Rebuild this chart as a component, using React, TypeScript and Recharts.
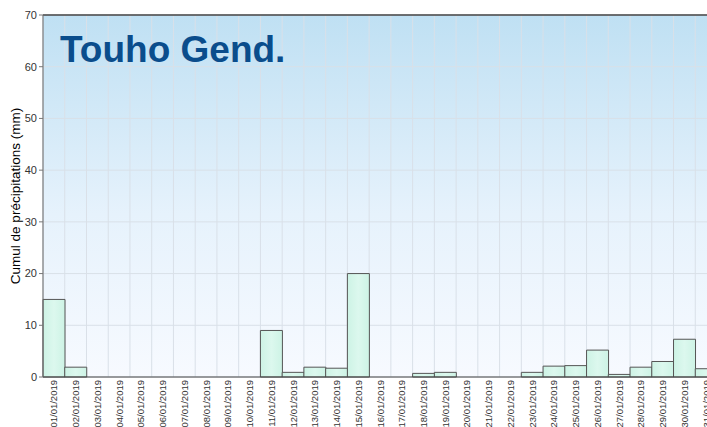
import React from "react";
import {
  Bar,
  BarChart,
  CartesianGrid,
  ReferenceLine,
  XAxis,
  YAxis,
} from "recharts";

const jours = [
  "01/01/2019", "02/01/2019", "03/01/2019", "04/01/2019", "05/01/2019",
  "06/01/2019", "07/01/2019", "08/01/2019", "09/01/2019", "10/01/2019",
  "11/01/2019", "12/01/2019", "13/01/2019", "14/01/2019", "15/01/2019",
  "16/01/2019", "17/01/2019", "18/01/2019", "19/01/2019", "20/01/2019",
  "21/01/2019", "22/01/2019", "23/01/2019", "24/01/2019", "25/01/2019",
  "26/01/2019", "27/01/2019", "28/01/2019", "29/01/2019", "30/01/2019",
  "31/01/2019",
];

const cumul = [
  15, 1.9, 0, 0, 0, 0, 0, 0, 0, 0,
  9, 0.9, 1.9, 1.7, 20, 0, 0, 0.7, 0.9, 0,
  0, 0, 0.9, 2.1, 2.2, 5.2, 0.5, 1.9, 3, 7.3,
  1.6,
];

const yTicks = [0, 10, 20, 30, 40, 50, 60, 70];

const data = jours.map((j, i) => ({ jour: j, pluie: cumul[i] }));

const police = "Liberation Sans, Arial, sans-serif";
const tickStyle = { fontSize: 11, fill: "#333", fontFamily: police };

function JourTick({ x, y, payload }: any) {
  return (
    <text
      transform={`translate(${x},${y}) rotate(-90)`}
      dy={3.5}
      textAnchor="end"
      fontSize={9.5}
      fill="#333"
      fontFamily={police}
    >
      {payload.value}
    </text>
  );
}

export default function App() {
  const n = jours.length;
  return (
    <div
      style={{
        position: "absolute",
        left: 0,
        top: 0,
        width: 707,
        height: 427,
        overflow: "hidden",
        background: "#fff",
      }}
    >
      <BarChart
        width={717}
        height={427}
        data={data}
        margin={{ top: 15, right: 0, bottom: 0, left: 0 }}
        barCategoryGap={0}
      >
        <defs>
          <linearGradient id="fond" x1="0" y1="0" x2="0" y2="1">
            <stop offset="0%" stopColor="#bfe0f3" />
            <stop offset="55%" stopColor="#e6f2fc" />
            <stop offset="100%" stopColor="#f7faff" />
          </linearGradient>
          <linearGradient id="barre" x1="0" y1="0" x2="1" y2="0">
            <stop offset="0%" stopColor="#cdf3e5" />
            <stop offset="50%" stopColor="#dcf8ee" />
            <stop offset="100%" stopColor="#cdf3e5" />
          </linearGradient>
        </defs>
        <CartesianGrid
          fill="url(#fond)"
          stroke="#d9e0e8"
          verticalCoordinatesGenerator={({ offset }: any) =>
            Array.from({ length: n + 1 }, (_, i) => offset.left + (i * offset.width) / n)
          }
        />
        <XAxis
          dataKey="jour"
          interval={0}
          height={50}
          tick={<JourTick />}
          tickLine={false}
          tickSize={0}
          tickMargin={3}
          axisLine={{ stroke: "#444" }}
        />
        <YAxis
          width={43}
          domain={[0, 70]}
          ticks={yTicks}
          tick={tickStyle}
          tickSize={4}
          tickLine={{ stroke: "#777" }}
          axisLine={{ stroke: "#666" }}
          label={{
            value: "Cumul de précipitations (mm)",
            angle: -90,
            position: "insideLeft",
            dx: 10,
            style: {
              textAnchor: "middle",
              fontSize: 13.5,
              fill: "#000",
              fontFamily: police,
            },
          }}
        />
        <ReferenceLine y={70} stroke="#444" strokeWidth={1.5} />
        <Bar
          dataKey="pluie"
          fill="url(#barre)"
          stroke="#555"
          strokeWidth={1}
          isAnimationActive={false}
        />
      </BarChart>
      <div
        style={{
          position: "absolute",
          left: 60,
          top: 28,
          fontFamily: police,
          fontWeight: "bold",
          fontSize: 37,
          color: "#0a4d8c",
          lineHeight: 1.2,
        }}
      >
        Touho Gend.
      </div>
    </div>
  );
}
